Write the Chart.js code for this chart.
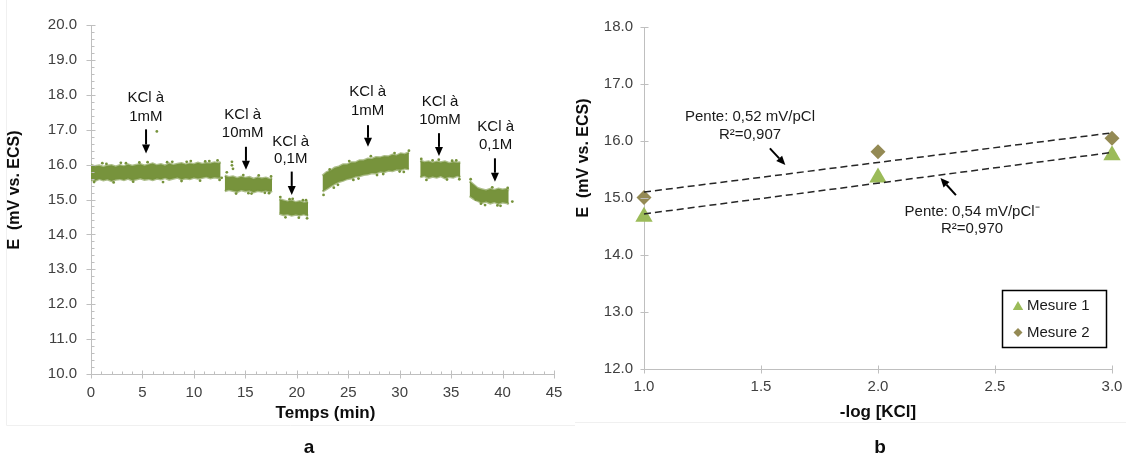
<!DOCTYPE html>
<html><head><meta charset="utf-8">
<script src="https://cdn.jsdelivr.net/npm/chart.js@4.4.0/dist/chart.umd.min.js"></script>
<style>
html,body{margin:0;padding:0;background:#fff;}
#wrap{position:relative;width:1126px;height:455px;overflow:hidden;}
#ca{position:absolute;left:0;top:0;}
#cb{position:absolute;left:575px;top:0;}
</style></head><body>
<div id="wrap"><canvas id="ca" width="575" height="455"></canvas><canvas id="cb" width="560" height="455"></canvas></div>
<script>
// ---------- Panel a data: E (mV vs ECS) vs time (min), band envelopes ----------
const seg1T  = [0.0,0.4,0.8,1.2,1.6,2.0,2.4,2.8,3.2,3.6,4.0,4.4,4.8,5.2,5.6,6.0,6.4,6.8,7.2,7.6,8.0,8.4,8.8,9.2,9.6,10.0,10.4,10.8,11.2,11.6,12.0,12.4,12.6];
const seg1Hi = [15.99,15.95,15.97,15.93,15.97,15.98,15.94,15.98,15.95,16.00,15.96,15.99,16.01,15.97,16.00,16.03,15.98,16.01,15.97,16.03,15.99,16.02,16.04,16.00,16.03,16.01,16.05,16.02,16.04,16.03,16.06,16.04,16.07];
const seg1Lo = [15.57,15.54,15.59,15.55,15.58,15.53,15.57,15.59,15.56,15.60,15.55,15.58,15.61,15.57,15.59,15.56,15.60,15.58,15.62,15.57,15.60,15.63,15.58,15.61,15.59,15.63,15.60,15.62,15.65,15.61,15.64,15.62,15.63];

const seg2T  = [13.0,13.4,13.8,14.2,14.6,15.0,15.4,15.8,16.2,16.6,17.0,17.4,17.6];
const seg2Hi = [15.68,15.64,15.66,15.61,15.65,15.62,15.64,15.59,15.63,15.60,15.62,15.58,15.61];
const seg2Lo = [15.24,15.28,15.25,15.22,15.27,15.24,15.26,15.21,15.25,15.23,15.26,15.22,15.25];

const seg3T  = [18.3,18.7,19.1,19.5,19.9,20.3,20.7,21.1];
const seg3Hi = [15.01,14.97,14.94,14.97,14.92,14.95,14.91,14.93];
const seg3Lo = [14.60,14.56,14.58,14.54,14.57,14.55,14.58,14.53];

const seg4T  = [22.5,22.9,23.3,23.7,24.1,24.5,24.9,25.3,25.7,26.1,26.5,26.9,27.3,27.7,28.1,28.5,28.9,29.3,29.7,30.1,30.5,30.9];
const seg4Hi = [15.68,15.78,15.83,15.91,15.94,16.00,16.00,16.06,16.06,16.12,16.12,16.17,16.16,16.21,16.20,16.24,16.23,16.28,16.26,16.32,16.30,16.35];
const seg4Lo = [15.23,15.30,15.38,15.45,15.51,15.54,15.59,15.61,15.66,15.67,15.71,15.72,15.76,15.75,15.80,15.79,15.83,15.82,15.86,15.85,15.89,15.87];

const seg5T  = [32.0,32.4,32.8,33.2,33.6,34.0,34.4,34.8,35.2,35.6,35.9];
const seg5Hi = [16.11,16.07,16.09,16.05,16.08,16.06,16.09,16.04,16.07,16.05,16.06];
const seg5Lo = [15.64,15.68,15.62,15.66,15.63,15.67,15.61,15.65,15.63,15.68,15.64];

const seg6T  = [36.8,37.2,37.6,38.0,38.4,38.8,39.2,39.6,40.0,40.4,40.6];
const seg6Hi = [15.52,15.42,15.32,15.29,15.26,15.30,15.27,15.31,15.28,15.30,15.25];
const seg6Lo = [15.10,15.02,14.96,14.91,14.94,14.89,14.93,14.88,14.92,14.90,14.87];

// scattered individual readings outside the dense band
const strayT = [0.3,1.1,1.5,2.2,2.9,3.4,4.1,4.7,5.5,6.4,7.0,7.4,7.9,8.8,9.3,9.7,10.6,11.1,11.5,12.3,12.5,12.7,
                13.2,13.7,13.7,13.8,14.1,14.8,15.3,15.6,16.3,16.9,17.3,17.5,
                18.4,18.9,19.3,19.6,20.2,20.6,20.9,21.0,
                22.6,23.2,23.6,24.0,25.1,25.5,26.0,27.2,27.8,28.4,29.5,30.0,30.4,30.9,
                32.1,32.6,33.2,33.8,34.6,35.1,35.5,35.8,
                36.9,37.4,37.9,38.3,39.0,39.5,39.8,40.5,40.95];
const strayE = [15.50,16.04,16.02,15.49,16.05,16.04,15.51,16.06,16.07,16.95,15.50,16.07,16.08,15.53,16.08,16.10,15.54,16.09,16.10,16.12,15.56,15.62,
                15.78,16.08,15.98,15.88,15.17,15.70,15.18,15.17,15.69,15.19,15.18,15.66,
                15.07,14.49,15.01,15.02,14.48,14.98,14.98,14.46,
                15.13,15.86,15.34,15.42,16.10,15.56,15.60,16.24,15.70,15.73,16.33,15.80,15.79,16.40,
                16.16,15.56,16.12,16.14,15.57,16.11,16.12,15.58,
                15.58,15.00,14.88,14.84,15.35,14.83,14.82,15.33,14.94];

// ---------- Panel b data ----------
const pKCl    = [1, 2, 3];
const mesure1 = [14.67, 15.36, 15.75];
const mesure2 = [15.01, 15.81, 16.05];

// ---------- styling ----------
const FF = '"Liberation Sans", Arial, Helvetica, sans-serif';
const AXIS = '#BFBFBF';
const TXT = '#404040';
const GREEN = '#77933C';
const GREEN_EDGE = 'rgba(119,147,60,0.6)';
const C1 = '#9BBB59';
const C2 = '#948A54';

// annotations (data coordinates)
const annotA = [
  {tx:5.33, ax:5.35, l1:'KCl à', l2:'1mM', y1:17.90, y2:17.37, a0:17.01, a1:16.32},
  {tx:14.74, ax:15.06, l1:'KCl à', l2:'10mM', y1:17.42, y2:16.90, a0:16.51, a1:15.85},
  {tx:19.41, ax:19.51, l1:'KCl à', l2:'0,1M', y1:16.66, y2:16.16, a0:15.80, a1:15.13},
  {tx:26.89, ax:26.92, l1:'KCl à', l2:'1mM', y1:18.07, y2:17.54, a0:17.13, a1:16.51},
  {tx:33.92, ax:33.82, l1:'KCl à', l2:'10mM', y1:17.80, y2:17.28, a0:16.90, a1:16.25},
  {tx:39.33, ax:39.26, l1:'KCl à', l2:'0,1M', y1:17.09, y2:16.56, a0:16.18, a1:15.51}
];
const annotB = [
  {tx:1.453, l1:'Pente: 0,52 mV/pCl', l2:'R²=0,907', y1:16.43, y2:16.11, ax0:1.538, ay0:15.87, ax1:1.604, ay1:15.58},
  {tx:2.402, l1:'Pente: 0,54 mV/pCl⁻', l2:'R²=0,970', y1:14.76, y2:14.46, ax0:2.333, ay0:15.05, ax1:2.267, ay1:15.35}
];

function fitLine(xs, ys) {
  const n = xs.length;
  const mx = xs.reduce((a,b)=>a+b,0)/n, my = ys.reduce((a,b)=>a+b,0)/n;
  let sxy=0, sxx=0;
  for (let i=0;i<n;i++){ sxy += (xs[i]-mx)*(ys[i]-my); sxx += (xs[i]-mx)**2; }
  const m = sxy/sxx, b = my - m*mx;
  const x0 = xs[0], x1 = xs[n-1];
  return [{x:x0, y:m*x0+b}, {x:x1, y:m*x1+b}];
}

function arrow(ctx, x0,y0,x1,y1, head, half){
  head = head||9; half = half||4;
  const ang = Math.atan2(y1-y0, x1-x0);
  const bx = x1 - Math.cos(ang)*head, by = y1 - Math.sin(ang)*head;
  ctx.save(); ctx.strokeStyle='#000'; ctx.fillStyle='#000'; ctx.lineWidth=2;
  ctx.beginPath(); ctx.moveTo(x0,y0); ctx.lineTo(bx,by); ctx.stroke();
  ctx.beginPath(); ctx.moveTo(x1,y1);
  ctx.lineTo(bx + Math.sin(ang)*half, by - Math.cos(ang)*half);
  ctx.lineTo(bx - Math.sin(ang)*half, by + Math.cos(ang)*half);
  ctx.closePath(); ctx.fill(); ctx.restore();
}
function txt(ctx, s, x, y, font, color, align, base){
  ctx.save(); ctx.font = font; ctx.fillStyle = color||'#000';
  ctx.textAlign = align||'center'; ctx.textBaseline = base||'middle';
  ctx.fillText(s, x, y); ctx.restore();
}
function vtxt(ctx, s, x, y, font){
  ctx.save(); ctx.translate(x,y); ctx.rotate(-Math.PI/2);
  ctx.font = font; ctx.fillStyle = '#0d0d0d'; ctx.textAlign='center'; ctx.textBaseline='middle';
  ctx.fillText(s,0,0); ctx.restore();
}

Chart.defaults.font.family = FF;
Chart.defaults.color = TXT;

// ---------- Chart a ----------
const segs = [[seg1T,seg1Hi,seg1Lo],[seg2T,seg2Hi,seg2Lo],[seg3T,seg3Hi,seg3Lo],
              [seg4T,seg4Hi,seg4Lo],[seg5T,seg5Hi,seg5Lo],[seg6T,seg6Hi,seg6Lo]];
const dsA = [];
segs.forEach(([T,H,L])=>{
  dsA.push({data:T.map((t,i)=>({x:t,y:H[i]})), borderColor:GREEN_EDGE, borderWidth:2.5, pointRadius:0, fill:false, tension:0});
  dsA.push({data:T.map((t,i)=>({x:t,y:L[i]})), borderColor:GREEN_EDGE, borderWidth:2.5, pointRadius:0, fill:'-1', backgroundColor:GREEN, tension:0});
});
dsA.push({data:strayT.map((t,i)=>({x:t,y:strayE[i]})), showLine:false, pointRadius:1.4, pointBackgroundColor:GREEN, pointBorderWidth:0, backgroundColor:GREEN});

const pluginA = {
  id:'decoA',
  afterDraw(chart){
    const ctx = chart.ctx, xs = chart.scales.x, ys = chart.scales.y, ca = chart.chartArea;
    ctx.save(); ctx.strokeStyle = AXIS; ctx.lineWidth = 1;
    const ax = Math.round(ca.left)+0.5, ay = Math.round(ca.bottom)+0.5;
    ctx.beginPath();
    for (let k=0;k<=50;k++){
      const py = Math.round(ys.getPixelForValue(10 + k*0.2))+0.5;
      if (k%5===0){ ctx.moveTo(ax-5,py); ctx.lineTo(ax+4,py); }
      else { ctx.moveTo(ax,py); ctx.lineTo(ax+3,py); }
    }
    for (let k=0;k<=45;k++){
      const px = Math.round(xs.getPixelForValue(k))+0.5;
      if (k%5===0){ ctx.moveTo(px,ay-4); ctx.lineTo(px,ay+4); }
      else { ctx.moveTo(px,ay-3); ctx.lineTo(px,ay); }
    }
    ctx.stroke();
    ctx.strokeStyle = '#F0F0F0';
    ctx.beginPath(); ctx.moveTo(6.5,0); ctx.lineTo(6.5,425.5); ctx.lineTo(575,425.5); ctx.stroke();
    ctx.restore();
    const f15 = '15px '+FF;
    annotA.forEach(a=>{
      const tx = xs.getPixelForValue(a.tx);
      txt(ctx, a.l1, tx, ys.getPixelForValue(a.y1), f15, '#111');
      txt(ctx, a.l2, tx, ys.getPixelForValue(a.y2), f15, '#111');
      const px = xs.getPixelForValue(a.ax);
      arrow(ctx, px, ys.getPixelForValue(a.a0), px, ys.getPixelForValue(a.a1), 9, 4);
    });
    vtxt(ctx, 'E  (mV vs. ECS)', 15, 190, 'bold 16px '+FF);
    txt(ctx, 'Temps (min)', (ca.left+ca.right)/2+3, 413, 'bold 17px '+FF, '#0d0d0d');
    txt(ctx, 'a', 309, 453, 'bold 19px '+FF, '#0d0d0d', 'center', 'alphabetic');
  }
};

new Chart(document.getElementById('ca'), {
  type:'line',
  data:{datasets:dsA},
  options:{
    responsive:false, animation:false, events:[],
    layout:{padding:{top:25,right:21,bottom:41,left:0}},
    plugins:{legend:{display:false}, tooltip:{enabled:false}},
    scales:{
      x:{type:'linear', min:0, max:45,
         ticks:{stepSize:5, padding:10, maxRotation:0, autoSkip:false, color:TXT, font:{size:15, family:FF}},
         grid:{display:false, drawTicks:false}, border:{display:true, color:AXIS, width:1},
         afterFit:s=>{s.height=40;}},
      y:{type:'linear', min:10, max:20,
         ticks:{stepSize:1, padding:14, color:TXT, font:{size:15, family:FF}, callback:v=>v.toFixed(1)},
         grid:{display:false, drawTicks:false}, border:{display:true, color:AXIS, width:1},
         afterFit:s=>{s.width=91;}}
    }
  },
  plugins:[pluginA]
});

// ---------- Chart b ----------
const fit1 = fitLine(pKCl, mesure1);
const fit2 = fitLine(pKCl, mesure2);

const pluginB = {
  id:'decoB',
  afterDraw(chart){
    const ctx = chart.ctx, xs = chart.scales.x, ys = chart.scales.y, ca = chart.chartArea;
    ctx.save(); ctx.strokeStyle = AXIS; ctx.lineWidth = 1;
    const ax = Math.round(ca.left)+0.5, ay = Math.round(ca.bottom)+0.5;
    ctx.beginPath();
    for (let k=0;k<=6;k++){
      const py = Math.round(ys.getPixelForValue(12+k))+0.5;
      ctx.moveTo(ax-4,py); ctx.lineTo(ax+4,py);
    }
    for (let k=0;k<=4;k++){
      const px = Math.round(xs.getPixelForValue(1+k*0.5))+0.5;
      ctx.moveTo(px,ay-4); ctx.lineTo(px,ay+4);
    }
    ctx.stroke();
    ctx.strokeStyle = '#F0F0F0';
    ctx.beginPath(); ctx.moveTo(0,422.5); ctx.lineTo(560,422.5); ctx.stroke();
    ctx.restore();
    const f15 = '15px '+FF;
    annotB.forEach(a=>{
      const tx = xs.getPixelForValue(a.tx);
      txt(ctx, a.l1, tx, ys.getPixelForValue(a.y1), f15, '#1a1a1a');
      txt(ctx, a.l2, tx, ys.getPixelForValue(a.y2), f15, '#1a1a1a');
      arrow(ctx, xs.getPixelForValue(a.ax0), ys.getPixelForValue(a.ay0),
                 xs.getPixelForValue(a.ax1), ys.getPixelForValue(a.ay1), 9, 4);
    });
    // legend
    const bx0 = ca.right - 110, by0 = ca.bottom - 79, bw = 104, bh = 57;
    ctx.save(); ctx.strokeStyle = '#000'; ctx.lineWidth = 1.5;
    ctx.strokeRect(Math.round(bx0)+0.5, Math.round(by0)+0.5, bw, bh);
    ctx.restore();
    const ds = chart.data.datasets;
    const entries = [ds[2], ds[3]];
    entries.forEach((d,i)=>{
      const cy = by0 + 16 + i*26.5;
      ctx.save(); ctx.fillStyle = d.pointBackgroundColor;
      Chart.helpers.drawPoint(ctx, {pointStyle:d.pointStyle, radius: i===0?6:4.5, rotation:0, borderWidth:0}, bx0+16, cy + (i===0?1:0));
      ctx.restore();
      txt(ctx, d.label, bx0+25, cy, f15, '#1a1a1a', 'left');
    });
    vtxt(ctx, 'E  (mV vs. ECS)', 9, 158, 'bold 16px '+FF);
    txt(ctx, '-log [KCl]', (ca.left+ca.right)/2, 412, 'bold 17px '+FF, '#0d0d0d');
    txt(ctx, 'b', 305, 453, 'bold 19px '+FF, '#0d0d0d', 'center', 'alphabetic');
  }
};

new Chart(document.getElementById('cb'), {
  type:'line',
  data:{datasets:[
    {label:'fit1', data:fit1, borderColor:'#262626', borderWidth:1.5, borderDash:[7,4], pointRadius:0, fill:false, order:0, clip:false},
    {label:'fit2', data:fit2, borderColor:'#262626', borderWidth:1.5, borderDash:[7,4], pointRadius:0, fill:false, order:0, clip:false},
    {label:'Mesure 1', data:pKCl.map((x,i)=>({x, y:mesure1[i]})), showLine:false, pointStyle:'triangle', pointRadius:10,
     pointBackgroundColor:C1, backgroundColor:C1, pointBorderWidth:0, order:1, clip:false},
    {label:'Mesure 2', data:pKCl.map((x,i)=>({x, y:mesure2[i]})), showLine:false, pointStyle:'rectRot', pointRadius:7.5,
     pointBackgroundColor:C2, backgroundColor:C2, pointBorderWidth:0, order:1, clip:false}
  ]},
  options:{
    responsive:false, animation:false, events:[],
    layout:{padding:{top:27,right:23,bottom:46,left:0}},
    plugins:{legend:{display:false}, tooltip:{enabled:false}},
    scales:{
      x:{type:'linear', min:1, max:3,
         ticks:{stepSize:0.5, padding:9, maxRotation:0, autoSkip:false, color:TXT, font:{size:15, family:FF}, callback:v=>v.toFixed(1)},
         grid:{display:false, drawTicks:false}, border:{display:true, color:AXIS, width:1},
         afterFit:s=>{s.height=40;}},
      y:{type:'linear', min:12, max:18,
         ticks:{stepSize:1, padding:11, color:TXT, font:{size:15, family:FF}, callback:v=>v.toFixed(1)},
         grid:{display:false, drawTicks:false}, border:{display:true, color:AXIS, width:1},
         afterFit:s=>{s.width=69;}}
    }
  },
  plugins:[pluginB]
});
</script>
</body></html>
